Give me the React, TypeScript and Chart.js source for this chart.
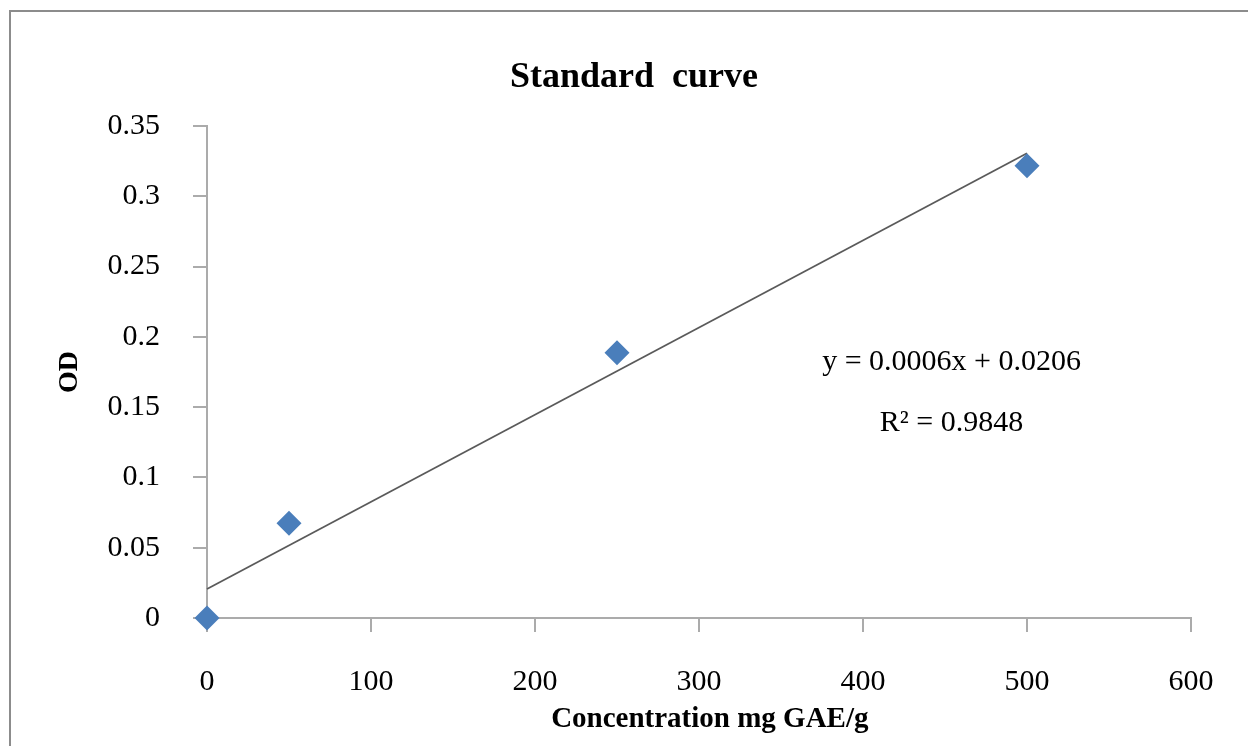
import React, { useEffect, useRef } from "react";
import { Chart, registerables } from "chart.js";

Chart.register(...registerables);

const concentrations = [0, 50, 250, 500];
const odValues = [0, 0.0674, 0.1887, 0.3217];
const trendX = [0, 500];
const trendY = [0.0206, 0.3306];
const equationText = "y = 0.0006x + 0.0206";
const r2Text = "R² = 0.9848";
const chartTitle = "Standard  curve";
const xTitle = "Concentration mg GAE/g";
const yTitle = "OD";

const SERIF = "'Liberation Serif', 'Times New Roman', serif";

const textPlugin = {
  id: "textLabels",
  afterDraw(chart: any) {
    const { ctx, scales, chartArea } = chart;
    const xs = scales.x;
    const ys = scales.y;
    ctx.save();
    ctx.fillStyle = "#000";
    ctx.textAlign = "center";
    ctx.textBaseline = "alphabetic";
    // chart title
    ctx.font = `bold 36px ${SERIF}`;
    ctx.fillText(chartTitle, chartArea.left + chartArea.width * 0.4339, chartArea.top - 39);
    // x-axis title
    ctx.font = `bold 29px ${SERIF}`;
    ctx.fillText(xTitle, chartArea.left + chartArea.width * 0.511, chartArea.bottom + 109);
    // trendline equation
    ctx.textBaseline = "middle";
    ctx.font = `30px ${SERIF}`;
    ctx.fillText(equationText, xs.getPixelForValue(454), ys.getPixelForValue(0.1821));
    ctx.fillText(r2Text, xs.getPixelForValue(454), ys.getPixelForValue(0.1387));
    ctx.restore();
  },
};

export default function App() {
  const ref = useRef<HTMLCanvasElement | null>(null);
  useEffect(() => {
    if (!ref.current) return;
    const axisColor = "#ababab";
    const chart = new Chart(ref.current, {
      type: "scatter",
      data: {
        datasets: [
          {
            label: "Linear",
            type: "line",
            data: trendX.map((x, i) => ({ x, y: trendY[i] })),
            borderColor: "#5a5a5a",
            borderWidth: 1.8,
            pointRadius: 0,
            fill: false,
            order: 2,
            clip: false,
          } as any,
          {
            label: "OD",
            data: concentrations.map((x, i) => ({ x, y: odValues[i] })),
            pointStyle: "rectRot",
            pointRadius: 12.5,
            pointBackgroundColor: "#4a7ebb",
            pointBorderColor: "#4a7ebb",
            pointBorderWidth: 0,
            order: 1,
            clip: false,
          } as any,
        ],
      },
      options: {
        animation: false,
        responsive: false,
        layout: { padding: { left: 0, top: 126, right: 57, bottom: 0 } },
        plugins: {
          legend: { display: false },
          tooltip: { enabled: false },
          title: { display: false },
        },
        scales: {
          x: {
            type: "linear",
            min: 0,
            max: 600,
            ticks: {
              stepSize: 100,
              color: "#000",
              font: { family: SERIF, size: 30, lineHeight: 1.2 },
              padding: 32,
              maxRotation: 0,
            },
            grid: { drawOnChartArea: false, drawTicks: true, tickLength: 14, color: axisColor, lineWidth: 2 },
            border: { display: true, color: axisColor, width: 2 },
            title: { display: false },
            afterFit(scale: any) {
              scale.height = 128;
            },
          },
          y: {
            type: "linear",
            min: 0,
            max: 0.35,
            ticks: {
              stepSize: 0.05,
              color: "#000",
              font: { family: SERIF, size: 30, lineHeight: 1.2 },
              padding: 33,
              callback: (v: any) => String(Number(Number(v).toFixed(2))),
            },
            grid: { drawOnChartArea: false, drawTicks: true, tickLength: 14, color: axisColor, lineWidth: 2 },
            border: { display: true, color: axisColor, width: 2 },
            title: {
              display: true,
              text: yTitle,
              color: "#000",
              font: { family: SERIF, size: 28, weight: "bold", lineHeight: 1.2 },
              padding: { top: 53, bottom: 0 },
            },
            afterFit(scale: any) {
              scale.width = 207;
            },
          },
        },
      },
      plugins: [textPlugin],
    });
    return () => chart.destroy();
  }, []);

  return (
    <div style={{ position: "absolute", left: 0, top: 0, width: 1248, height: 746, background: "#fff", overflow: "hidden" }}>
      <div
        style={{
          position: "absolute",
          left: 9,
          top: 10,
          width: 1260,
          height: 760,
          border: "2.5px solid #8c8c8c",
          boxSizing: "border-box",
        }}
      />
      <canvas ref={ref} width={1248} height={746} style={{ position: "absolute", left: 0, top: 0, width: 1248, height: 746 }} />
    </div>
  );
}
